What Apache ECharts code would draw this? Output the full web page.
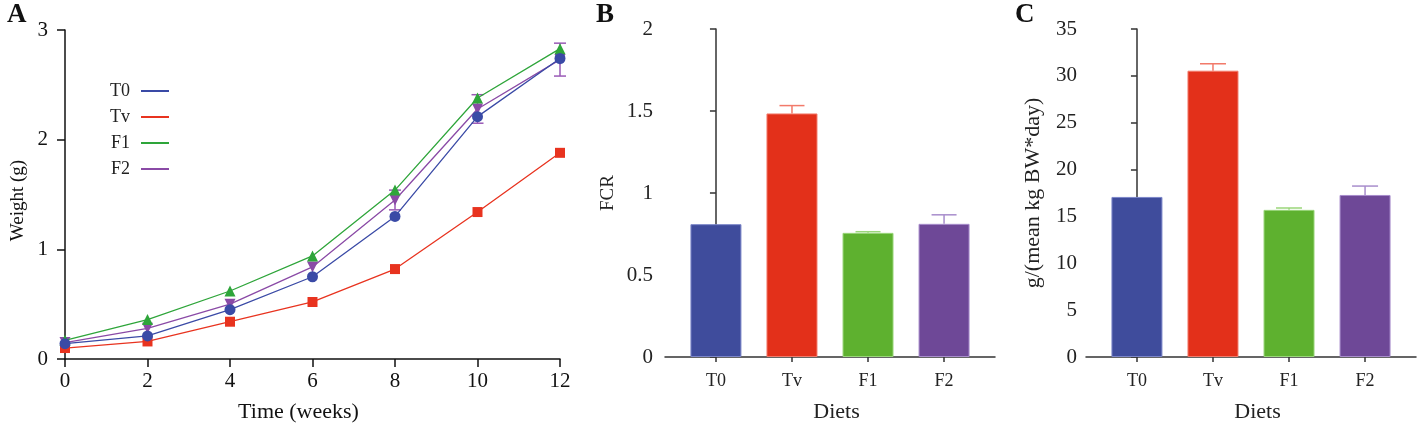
<!DOCTYPE html>
<html>
<head>
<meta charset="utf-8">
<script src="https://cdn.jsdelivr.net/npm/echarts@6/dist/echarts.min.js"></script>
<style>
  html, body { margin: 0; padding: 0; background: #fff; }
  #chart { width: 1418px; height: 428px; }
</style>
</head>
<body>
<div id="chart"></div>
<script>
  // panel A: weight over time
  const weeks = [0, 2, 4, 6, 8, 10, 12]
  const weightT0 = [0.14, 0.21, 0.45, 0.75, 1.30, 2.21, 2.74]
  const weightTv = [0.10, 0.16, 0.34, 0.52, 0.82, 1.34, 1.88]
  const weightF1 = [0.17, 0.36, 0.62, 0.94, 1.54, 2.38, 2.83]
  const weightF2 = [0.15, 0.28, 0.50, 0.84, 1.45, 2.28, 2.73]
  const errF2 = [0, 0, 0, 0, 0.09, 0.13, 0.15]
  // panels B and C
  const diets = ['T0', 'Tv', 'F1', 'F2']
  const fcr = [0.81, 1.485, 0.757, 0.812]
  const fcrErr = [0, 0.048, 0.007, 0.055]
  const intake = [17.08, 30.55, 15.7, 17.29]
  const intakeErr = [0, 0.74, 0.2, 0.95]

  const lineColors = ['#3a4aa6', '#e8331f', '#2ea53a', '#8a4aa6']
  const barColors = ['#3f4c9c', '#e3301a', '#5eb12f', '#6e4897']
  const barBorders = ['#7c86c9', '#f27a6a', '#9ad67a', '#a88dcc']
  const font = 'Liberation Serif'

  const pair = (xs, ys) => xs.map((x, i) => [x, ys[i]])
  const triple = (xs, ys, es) => xs.map((x, i) => [x, ys[i], es[i]])

  // error bars, two sided or up only
  const errRender = (both, cap, color) => (params, api) => {
    const x = api.value(0)
    const y = api.value(1)
    const e = api.value(2)
    if (!e) return
    const top = api.coord([x, y + e])
    const bot = api.coord([x, both ? y - e : y])
    const c = color(params.dataIndex)
    const children = [
      { type: 'line', shape: { x1: top[0], y1: top[1], x2: bot[0], y2: bot[1] }, style: { stroke: c, lineWidth: 1.5 } },
      { type: 'line', shape: { x1: top[0] - cap / 2, y1: top[1], x2: top[0] + cap / 2, y2: top[1] }, style: { stroke: c, lineWidth: 1.5 } }
    ]
    if (both) {
      children.push({ type: 'line', shape: { x1: bot[0] - cap / 2, y1: bot[1], x2: bot[0] + cap / 2, y2: bot[1] }, style: { stroke: c, lineWidth: 1.5 } })
    }
    return { type: 'group', children }
  }

  const catAxis = (gridIndex) => ({
    type: 'value',
    gridIndex,
    min: -0.67,
    max: 3.67,
    name: 'Diets',
    nameLocation: 'middle',
    nameGap: 44,
    nameTextStyle: { fontFamily: font, fontSize: 22, color: '#222', padding: [0, 0, 0, 13] },
    axisLine: { lineStyle: { color: '#333', width: 1.5 } },
    axisTick: { customValues: [0, 1, 2, 3], length: 5, lineStyle: { color: '#333', width: 1.5 } },
    axisLabel: { customValues: [0, 1, 2, 3], formatter: (v) => diets[Math.round(v)], margin: 15, fontFamily: font, fontSize: 18, color: '#222' },
    splitLine: { show: false }
  })

  const valAxis = (gridIndex, max, interval, name, gap, margin, nameSize) => ({
    type: 'value',
    gridIndex,
    min: 0,
    max,
    interval,
    name,
    nameLocation: 'middle',
    nameGap: gap,
    nameTextStyle: { fontFamily: font, fontSize: nameSize, color: '#222' },
    axisLine: { show: true, lineStyle: { color: '#333', width: 1.5 } },
    axisTick: { show: true, length: 6, lineStyle: { color: '#333', width: 1.5 } },
    axisLabel: { margin, fontFamily: font, fontSize: 21, color: '#222' },
    splitLine: { show: false }
  })

  const names = ['T0', 'Tv', 'F1', 'F2']
  const weights = [weightT0, weightTv, weightF1, weightF2]
  const symbols = ['circle', 'rect', 'triangle', 'triangle']
  const symbolSizes = [11, 10, 11, 11]

  const lineSeries = names.map((n, i) => ({
    name: n,
    type: 'line',
    xAxisIndex: 0,
    yAxisIndex: 0,
    data: pair(weeks, weights[i]),
    symbol: symbols[i],
    symbolSize: symbolSizes[i],
    symbolRotate: i === 3 ? 180 : 0,
    lineStyle: { color: lineColors[i], width: 1.3 },
    itemStyle: { color: lineColors[i] },
    z: 10 - i
  }))

  const chart = echarts.init(document.getElementById('chart'))
  const option = {
    animation: false,
    title: [
      { text: 'A', left: 7, top: 2, padding: 0, textStyle: { fontFamily: font, fontSize: 27, fontWeight: 'bold', color: '#111' } },
      { text: 'B', left: 596, top: 2, padding: 0, textStyle: { fontFamily: font, fontSize: 27, fontWeight: 'bold', color: '#111' } },
      { text: 'C', left: 1015, top: 2, padding: 0, textStyle: { fontFamily: font, fontSize: 27, fontWeight: 'bold', color: '#111' } }
    ],
    legend: {
      orient: 'vertical',
      left: 105,
      top: 77,
      align: 'right',
      itemWidth: 28,
      itemHeight: 2,
      itemGap: 8,
      icon: 'rect',
      data: names,
      textStyle: { fontFamily: font, fontSize: 18, color: '#222', padding: [0, 6, 0, 0] }
    },
    grid: [
      { left: 65, top: 30, width: 495, height: 330 },
      { left: 665, top: 29, width: 330, height: 330 },
      { left: 1086, top: 29, width: 330, height: 330 }
    ],
    xAxis: [
      {
        type: 'value',
        gridIndex: 0,
        min: 0,
        max: 12,
        interval: 2,
        name: 'Time (weeks)',
        nameLocation: 'middle',
        nameGap: 42,
        nameTextStyle: { fontFamily: font, fontSize: 22, color: '#111', padding: [0, 28, 0, 0] },
        axisLine: { lineStyle: { color: '#111', width: 1.5 } },
        axisTick: { length: 8, lineStyle: { color: '#111', width: 1.5 } },
        axisLabel: { margin: 12, fontFamily: font, fontSize: 21, color: '#111' },
        splitLine: { show: false }
      },
      catAxis(1),
      catAxis(2)
    ],
    yAxis: [
      {
        type: 'value',
        gridIndex: 0,
        min: 0,
        max: 3,
        interval: 1,
        name: 'Weight (g)',
        nameLocation: 'middle',
        nameGap: 37,
        nameTextStyle: { fontFamily: font, fontSize: 19, color: '#111', padding: [0, 12, 0, 0] },
        axisLine: { show: true, lineStyle: { color: '#111', width: 1.5 } },
        axisTick: { show: true, length: 8, lineStyle: { color: '#111', width: 1.5 } },
        axisLabel: { margin: 17, fontFamily: font, fontSize: 21, color: '#111' },
        splitLine: { show: false }
      },
      valAxis(1, 2, 0.5, 'FCR', 47, 12, 19),
      valAxis(2, 35, 5, 'g/(mean kg BW*day)', 42, 9, 22)
    ],
    series: [
      ...lineSeries,
      {
        type: 'custom',
        xAxisIndex: 0,
        yAxisIndex: 0,
        data: triple(weeks, weightF2, errF2),
        encode: { x: 0, y: 1 },
        renderItem: errRender(true, 12, () => '#9a5ab6'),
        z: 5
      },
      {
        type: 'bar',
        xAxisIndex: 1,
        yAxisIndex: 1,
        barWidth: 51,
        data: fcr.map((v, i) => ({ value: [i, v], itemStyle: { color: barColors[i], borderColor: barBorders[i], borderWidth: 1 } }))
      },
      {
        type: 'custom',
        xAxisIndex: 1,
        yAxisIndex: 1,
        data: triple([0, 1, 2, 3], fcr, fcrErr),
        encode: { x: 0, y: 1 },
        renderItem: errRender(false, 25, (i) => barBorders[i]),
        z: 5
      },
      {
        type: 'bar',
        xAxisIndex: 2,
        yAxisIndex: 2,
        barWidth: 51,
        data: intake.map((v, i) => ({ value: [i, v], itemStyle: { color: barColors[i], borderColor: barBorders[i], borderWidth: 1 } }))
      },
      {
        type: 'custom',
        xAxisIndex: 2,
        yAxisIndex: 2,
        data: triple([0, 1, 2, 3], intake, intakeErr),
        encode: { x: 0, y: 1 },
        renderItem: errRender(false, 26, (i) => barBorders[i]),
        z: 5
      }
    ]
  }
  chart.setOption(option)
  window.onresize = () => {
    chart.resize()
  }
</script>
</body>
</html>
